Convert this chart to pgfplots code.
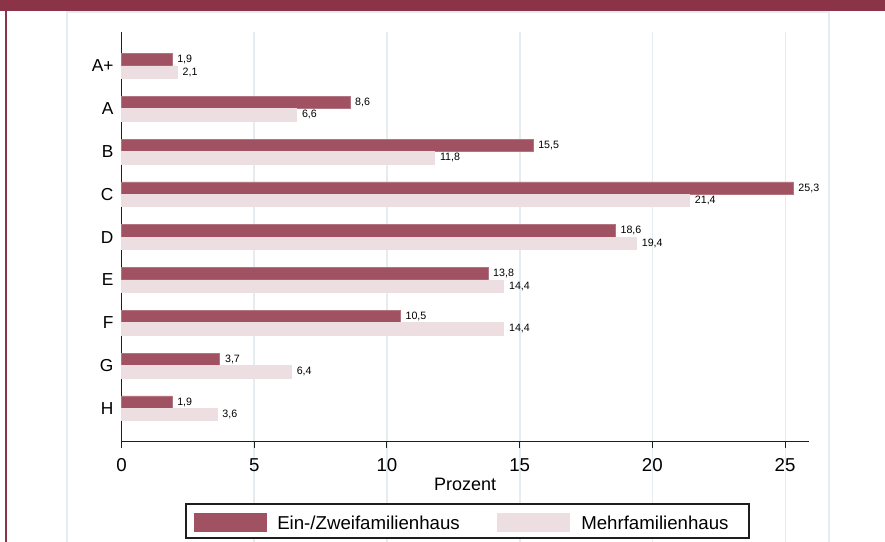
\documentclass[border=0pt]{standalone}
\usepackage{fontspec}
\setmainfont{Liberation Sans}
\usepackage{pgfplots}
\pgfplotsset{compat=1.18}
\definecolor{band}{RGB}{139,52,72}
\definecolor{darkbar}{RGB}{160,82,98}
\definecolor{lightbar}{RGB}{237,222,226}
\definecolor{gridc}{RGB}{228,236,240}
\definecolor{framec}{RGB}{228,236,240}
\definecolor{axc}{RGB}{30,30,30}
\begin{document}
\begin{tikzpicture}[x=0.75pt,y=-0.75pt]
\useasboundingbox (0,0) rectangle (885,542);
\fill[band] (0,0) rectangle (885,11);
\fill[band] (5,11) rectangle (7.3,542);
\draw[framec,line width=0.8pt] (67,542) -- (67,12) -- (829,12) -- (829,542);
\foreach \gx in {254.2,387,519.8,652.5,785.3} {
  \draw[gridc,line width=1.1pt] (\gx,32) -- (\gx,542);
}
\begin{axis}[
  at={(91.125pt,-331.275pt)}, anchor=south west,
  scale only axis, width=515.6pt, height=307.3pt,
  xmin=0, xmax=25.9, ymin=-0.78, ymax=8.79,
  axis x line*=bottom, axis y line*=left,
  axis line style={axc,line width=0.9pt,-},
  xtick={0,5,10,15,20,25},
  ytick={0,1,2,3,4,5,6,7,8},
  yticklabels={H,G,F,E,D,C,B,A,A+},
  major tick length=4.5pt,
  ytick style={draw=none},
  xtick style={axc,line width=0.8pt},
  tick align=outside,
  /pgf/number format/assume math mode=true,
  xticklabel style={font=\fontsize{14}{16}\selectfont, yshift=-4.8pt},
  yticklabel style={font=\fontsize{13}{15}\selectfont, xshift=2pt},
  xlabel={Prozent},
  xlabel style={font=\fontsize{13.5}{16}\selectfont, yshift=2.5pt},
  clip=false,
  xbar, bar width=9.3pt,
  nodes near coords={\pgfmathprintnumber[fixed,fixed zerofill,precision=1,use comma,assume math mode=true]{\pgfplotspointmeta}},
  every node near coord/.append style={font=\fontsize{8}{9}\selectfont, anchor=west, xshift=0.5pt, text=black},
]
\addplot[fill=darkbar, draw=darkbar!80!white, bar shift=4.65pt] coordinates {
 (1.9,8) (8.6,7) (15.5,6) (25.3,5) (18.6,4) (13.8,3) (10.5,2) (3.7,1) (1.9,0)};
\addplot[fill=lightbar, draw=lightbar, bar shift=-4.65pt] coordinates {
 (2.1,8) (6.6,7) (11.8,6) (21.4,5) (19.4,4) (14.4,3) (14.4,2) (6.4,1) (3.6,0)};
\end{axis}
% legend
\draw[axc,line width=0.8pt,fill=white] (186,504) rectangle (749,538);
\fill[darkbar] (194,513) rectangle (267,532);
\fill[lightbar] (497,513) rectangle (570,532);
\node[anchor=west,inner sep=0pt,font=\fontsize{14}{16}\selectfont] at (277,522.5) {Ein-/Zweifamilienhaus};
\node[anchor=west,inner sep=0pt,font=\fontsize{14}{16}\selectfont] at (581,522.5) {Mehrfamilienhaus};
\end{tikzpicture}
\end{document}
